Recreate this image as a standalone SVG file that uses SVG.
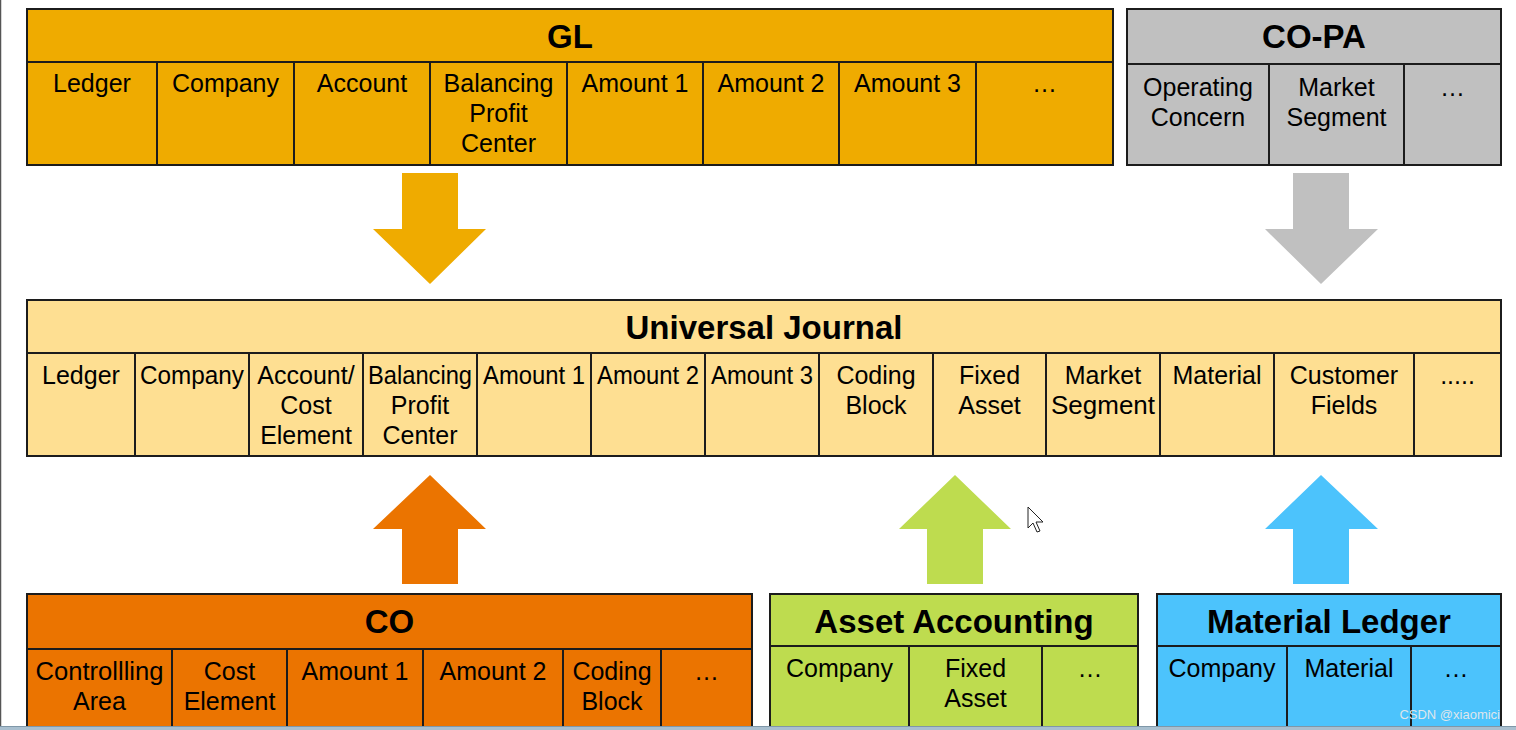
<svg xmlns="http://www.w3.org/2000/svg" width="1516" height="730" viewBox="0 0 1516 730">
<style>
.box{stroke:#1c1c1c;stroke-width:2}
.ln{stroke:#1c1c1c;stroke-width:2;fill:none}
.h{font-family:"Liberation Sans",Arial,sans-serif;font-weight:bold;font-size:33px;fill:#000;text-anchor:middle}
.t{font-family:"Liberation Sans",Arial,sans-serif;font-size:25px;fill:#000;text-anchor:middle}
</style>
<rect width="1516" height="730" fill="#ffffff"/>
<line x1="0.5" y1="0" x2="0.5" y2="730" stroke="#555" stroke-width="1.5"/>

<g id="gl">
<rect class="box" x="27" y="9" width="1086" height="156" fill="#efab00"/>
<path class="ln" d="M27 62H1113M157 62V165M294 62V165M430 62V165M567 62V165M703 62V165M839 62V165M976 62V165"/>
<text class="h" x="570" y="48">GL</text>
<text class="t" x="92" y="92">Ledger</text>
<text class="t" x="225.5" y="92">Company</text>
<text class="t" x="362" y="92">Account</text>
<text class="t" x="498.5" y="92">Balancing</text>
<text class="t" x="498.5" y="122">Profit</text>
<text class="t" x="498.5" y="152">Center</text>
<text class="t" x="635" y="92">Amount 1</text>
<text class="t" x="771" y="92">Amount 2</text>
<text class="t" x="907.5" y="92">Amount 3</text>
<text class="t" x="1044.5" y="92">…</text>
</g>

<g id="copa">
<rect class="box" x="1127" y="9" width="374" height="156" fill="#c0c0c0"/>
<path class="ln" d="M1127 64H1501M1269 64V165M1404 64V165"/>
<text class="h" x="1314" y="48">CO-PA</text>
<text class="t" x="1198" y="96">Operating</text>
<text class="t" x="1198" y="126">Concern</text>
<text class="t" x="1336.5" y="96">Market</text>
<text class="t" x="1336.5" y="126">Segment</text>
<text class="t" x="1452.5" y="96">…</text>
</g>

<g id="uj">
<rect class="box" x="27" y="300" width="1474" height="156" fill="#fedf92"/>
<path class="ln" d="M27 353H1501M135 353V456M249 353V456M363 353V456M477 353V456M591 353V456M705 353V456M819 353V456M933 353V456M1046 353V456M1160 353V456M1274 353V456M1414 353V456"/>
<text class="h" x="764" y="339">Universal Journal</text>
<text class="t" x="81" y="384">Ledger</text>
<text class="t" x="192" y="384" textLength="104" lengthAdjust="spacingAndGlyphs">Company</text>
<text class="t" x="306" y="384">Account/</text>
<text class="t" x="306" y="414">Cost</text>
<text class="t" x="306" y="444">Element</text>
<text class="t" x="420" y="384" textLength="104" lengthAdjust="spacingAndGlyphs">Balancing</text>
<text class="t" x="420" y="414">Profit</text>
<text class="t" x="420" y="444">Center</text>
<text class="t" x="534" y="384" textLength="102" lengthAdjust="spacingAndGlyphs">Amount 1</text>
<text class="t" x="648" y="384" textLength="102" lengthAdjust="spacingAndGlyphs">Amount 2</text>
<text class="t" x="762" y="384" textLength="102" lengthAdjust="spacingAndGlyphs">Amount 3</text>
<text class="t" x="876" y="384">Coding</text>
<text class="t" x="876" y="414">Block</text>
<text class="t" x="989.5" y="384">Fixed</text>
<text class="t" x="989.5" y="414">Asset</text>
<text class="t" x="1103" y="384">Market</text>
<text class="t" x="1103" y="414" textLength="104" lengthAdjust="spacingAndGlyphs">Segment</text>
<text class="t" x="1217" y="384">Material</text>
<text class="t" x="1344" y="384">Customer</text>
<text class="t" x="1344" y="414">Fields</text>
<text class="t" x="1457.5" y="384">.....</text>
</g>

<g id="co">
<rect class="box" x="27" y="594" width="725" height="160" fill="#eb7400"/>
<path class="ln" d="M27 649H752M172 649V730M287 649V730M423 649V730M563 649V730M661 649V730"/>
<text class="h" x="389.5" y="633">CO</text>
<text class="t" x="99.5" y="680" textLength="128" lengthAdjust="spacingAndGlyphs">Controllling</text>
<text class="t" x="99.5" y="710">Area</text>
<text class="t" x="229.5" y="680">Cost</text>
<text class="t" x="229.5" y="710">Element</text>
<text class="t" x="355" y="680">Amount 1</text>
<text class="t" x="493" y="680">Amount 2</text>
<text class="t" x="612" y="680">Coding</text>
<text class="t" x="612" y="710">Block</text>
<text class="t" x="706.5" y="680">…</text>
</g>

<g id="asset">
<rect class="box" x="770" y="594" width="368" height="160" fill="#bedc4f"/>
<path class="ln" d="M770 646H1138M909 646V730M1042 646V730"/>
<text class="h" x="954" y="633">Asset Accounting</text>
<text class="t" x="839.5" y="677">Company</text>
<text class="t" x="975.5" y="677">Fixed</text>
<text class="t" x="975.5" y="707">Asset</text>
<text class="t" x="1090" y="677">…</text>
</g>

<g id="ml">
<rect class="box" x="1157" y="594" width="344" height="160" fill="#4cc3fc"/>
<path class="ln" d="M1157 646H1501M1287 646V730M1411 646V730"/>
<text class="h" x="1329" y="633">Material Ledger</text>
<text class="t" x="1222" y="677">Company</text>
<text class="t" x="1349" y="677">Material</text>
<text class="t" x="1456" y="677">…</text>
</g>

<g id="connectors">
<polygon points="402,173 458,173 458,229 486,229 430,284 373,229 402,229" fill="#efab00"/>
<polygon points="1293,173 1349,173 1349,229 1378,229 1321,284 1265,229 1293,229" fill="#c0c0c0"/>
<polygon points="402,584 458,584 458,529 486,529 430,475 373,529 402,529" fill="#eb7400"/>
<polygon points="927,584 983,584 983,529 1011,529 955,475 899,529 927,529" fill="#bedc4f"/>
<polygon points="1293,584 1349,584 1349,529 1378,529 1321,475 1265,529 1293,529" fill="#4cc3fc"/>
</g>

<polygon points="1028,507 1028,528 1033,523 1037,532 1040,531 1036,522 1043,522" fill="#ffffff" stroke="#222" stroke-width="1"/>
<text x="1500" y="719" font-family="'Liberation Sans',Arial,sans-serif" font-size="13" fill="#dfe6ec" text-anchor="end">CSDN @xiaomici</text>
<rect x="0" y="726.5" width="1516" height="4" fill="#a9bfcf"/>
<line x1="0" y1="726.5" x2="1516" y2="726.5" stroke="#7f97a8" stroke-width="1"/>
</svg>
